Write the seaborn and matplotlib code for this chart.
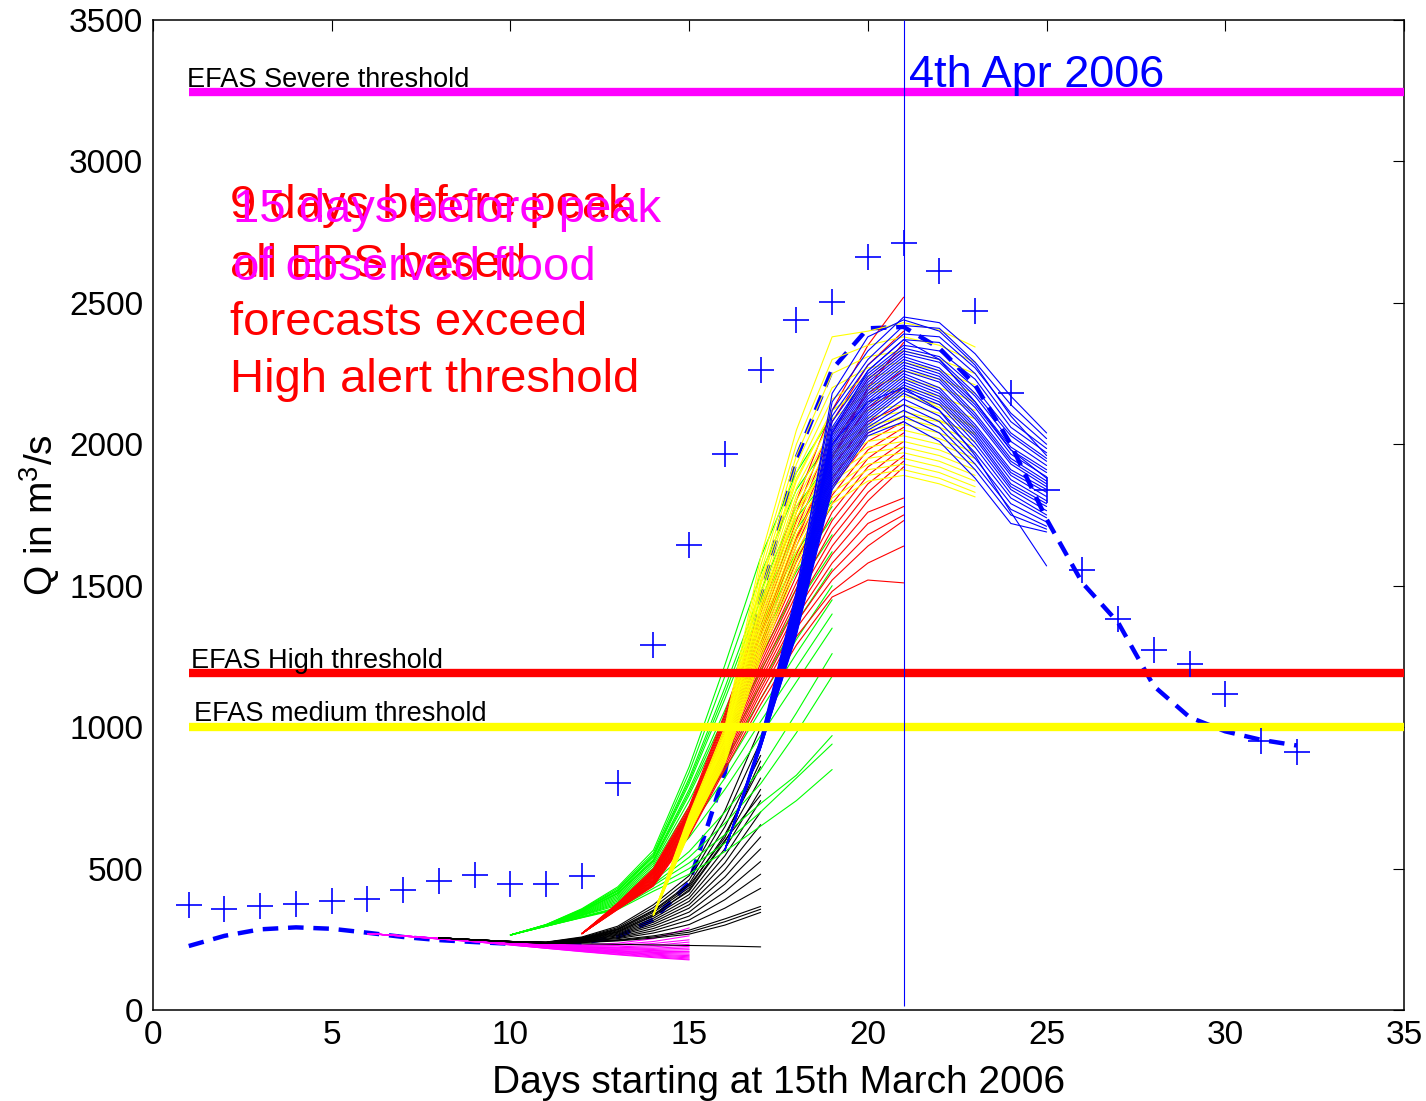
import matplotlib
matplotlib.use("Agg")
import matplotlib.pyplot as plt
import numpy as np
import pandas as pd
import seaborn as sns

# ---------------------------------------------------------------------------
# Observed discharge (crosses) and simulated discharge (dashed), days 1..32
# ---------------------------------------------------------------------------
obs_days = list(range(1, 33))
obs_q = [370, 357, 367, 374, 385, 392, 425, 455, 477, 445, 445, 474, 802, 1292,
         1643, 1965, 2262, 2440, 2503, 2662, 2711, 2612, 2471, 2181, 1838, 1555,
         1384, 1272, 1224, 1116, 950, 912]

sim_days = list(range(1, 33))
sim_q = [226, 262, 285, 292, 287, 273, 258, 247, 240, 234, 232, 238, 258, 320,
         450, 840, 1450, 1950, 2265, 2410, 2415, 2340, 2210, 2000, 1735, 1510,
         1370, 1145, 1035, 985, 955, 935]

# EFAS alert thresholds (m3/s)
thr_severe = 3245
thr_high = 1190
thr_medium = 1000

peak_day = 21

# ---------------------------------------------------------------------------
# EPS forecast runs: first forecast day and daily member values
# ---------------------------------------------------------------------------
magenta_start = 6
magenta_members = [
    [270, 262, 253, 245, 238, 232, 230, 236, 252, 290],
    [270, 262, 253, 245, 238, 232, 228, 231, 242, 262],
    [270, 262, 253, 245, 237, 230, 226, 228, 235, 248],
    [270, 262, 253, 244, 236, 229, 224, 223, 228, 240],
    [270, 262, 253, 244, 236, 228, 222, 220, 223, 232],
    [270, 262, 253, 244, 235, 227, 221, 218, 218, 225],
    [270, 262, 252, 244, 235, 226, 220, 215, 214, 219],
    [270, 262, 252, 243, 234, 225, 218, 213, 210, 213],
    [270, 262, 252, 243, 234, 224, 216, 210, 206, 207],
    [270, 262, 252, 243, 233, 223, 215, 208, 203, 202],
    [270, 262, 252, 242, 233, 222, 213, 206, 200, 197],
    [270, 261, 252, 242, 232, 221, 212, 204, 197, 192],
    [270, 261, 251, 242, 231, 220, 210, 202, 194, 188],
    [270, 261, 251, 241, 231, 219, 209, 200, 191, 184],
    [270, 261, 251, 241, 230, 218, 207, 197, 188, 180],
    [270, 261, 251, 241, 230, 218, 206, 195, 185, 177],
]

black_start = 8
black_members = [
    [255, 248, 241, 236, 234, 232, 230, 228, 226, 223],
    [255, 248, 241, 236, 238, 244, 254, 268, 300, 345],
    [255, 248, 241, 236, 239, 246, 258, 275, 312, 356],
    [255, 248, 241, 236, 240, 248, 262, 282, 322, 366],
    [255, 248, 241, 237, 242, 252, 272, 302, 360, 430],
    [255, 248, 241, 237, 243, 255, 280, 318, 390, 480],
    [255, 248, 241, 237, 244, 258, 288, 332, 418, 525],
    [255, 248, 241, 237, 245, 262, 296, 346, 445, 570],
    [255, 248, 242, 238, 246, 265, 303, 360, 470, 612],
    [255, 248, 242, 238, 247, 268, 310, 372, 495, 655],
    [255, 248, 242, 238, 248, 271, 317, 384, 520, 700],
    [255, 248, 242, 238, 249, 274, 324, 396, 545, 740],
    [255, 248, 242, 238, 250, 277, 331, 408, 570, 780],
    [255, 248, 242, 239, 251, 280, 338, 420, 595, 820],
    [255, 248, 242, 239, 252, 283, 345, 432, 620, 860],
    [255, 248, 242, 239, 254, 287, 353, 446, 648, 900],
    [255, 248, 242, 239, 256, 291, 362, 460, 676, 950],
    [255, 248, 242, 240, 258, 296, 372, 475, 705, 1000],
    [255, 248, 242, 238, 249, 276, 334, 425, 600, 760],
    [255, 248, 242, 239, 253, 285, 350, 440, 610, 880],
]

green_start = 10
green_members = [
    [265, 302, 358, 435, 565, 860, 1220, 1600, 1900, 2100],
    [265, 302, 356, 430, 555, 840, 1180, 1540, 1840, 2020],
    [265, 301, 354, 425, 548, 820, 1140, 1480, 1780, 1950],
    [265, 301, 352, 420, 540, 800, 1100, 1420, 1700, 1870],
    [265, 300, 350, 415, 532, 780, 1060, 1360, 1620, 1800],
    [265, 300, 348, 410, 525, 760, 1020, 1300, 1550, 1740],
    [265, 300, 346, 405, 518, 740, 985, 1250, 1490, 1680],
    [265, 299, 344, 400, 510, 720, 950, 1200, 1430, 1620],
    [265, 299, 342, 395, 502, 700, 915, 1150, 1370, 1560],
    [265, 299, 340, 390, 495, 680, 880, 1100, 1310, 1500],
    [265, 298, 338, 385, 488, 660, 850, 1060, 1260, 1450],
    [265, 298, 336, 380, 480, 640, 820, 1020, 1210, 1400],
    [265, 298, 335, 375, 470, 610, 780, 970, 1160, 1350],
    [265, 297, 333, 370, 455, 560, 700, 850, 1050, 1260],
    [265, 297, 330, 362, 440, 520, 620, 730, 830, 970],
    [265, 296, 328, 358, 430, 500, 590, 700, 820, 940],
    [265, 296, 326, 355, 420, 480, 560, 650, 740, 850],
    [265, 296, 327, 360, 445, 540, 660, 800, 980, 1180],
    [265, 300, 349, 412, 528, 770, 1040, 1330, 1600, 1780],
    [265, 301, 353, 422, 544, 810, 1120, 1450, 1740, 1900],
]

red_start = 12
red_members = [
    [270, 378, 500, 720, 1050, 1420, 1800, 2120, 2350, 2520],
    [270, 376, 496, 712, 1040, 1400, 1760, 2080, 2280, 2400],
    [270, 374, 492, 706, 1030, 1380, 1730, 2040, 2230, 2330],
    [270, 373, 489, 700, 1020, 1360, 1700, 2000, 2180, 2260],
    [270, 372, 486, 695, 1010, 1340, 1670, 1960, 2130, 2200],
    [270, 370, 483, 690, 1000, 1320, 1640, 1920, 2080, 2140],
    [270, 369, 480, 685, 990, 1300, 1610, 1880, 2040, 2100],
    [270, 368, 477, 680, 980, 1285, 1585, 1850, 2010, 2080],
    [270, 367, 474, 675, 970, 1270, 1560, 1820, 1980, 2060],
    [270, 366, 471, 670, 960, 1255, 1535, 1790, 1950, 2040],
    [270, 365, 468, 665, 950, 1240, 1510, 1760, 1920, 2010],
    [270, 364, 465, 660, 940, 1225, 1490, 1730, 1890, 1990],
    [270, 363, 462, 655, 930, 1210, 1470, 1700, 1860, 1960],
    [270, 362, 459, 650, 920, 1195, 1450, 1670, 1830, 1940],
    [270, 361, 456, 645, 910, 1180, 1430, 1640, 1800, 1920],
    [270, 360, 453, 640, 900, 1165, 1410, 1610, 1760, 1810],
    [270, 359, 450, 635, 890, 1150, 1390, 1580, 1720, 1780],
    [270, 358, 447, 630, 880, 1135, 1370, 1550, 1680, 1750],
    [270, 357, 444, 625, 870, 1120, 1350, 1520, 1640, 1730],
    [270, 356, 441, 620, 860, 1100, 1320, 1480, 1580, 1640],
    [270, 355, 438, 615, 850, 1080, 1290, 1460, 1520, 1510],
    [270, 371, 485, 693, 1005, 1330, 1660, 1950, 2200, 2360],
]

yellow_start = 14
yellow_members = [
    [336, 690, 1000, 1600, 2050, 2380, 2400, 2430, 2404, 2344],
    [336, 684, 990, 1570, 2000, 2300, 2350, 2380, 2350, 2290],
    [336, 680, 982, 1545, 1960, 2250, 2310, 2330, 2300, 2250],
    [336, 676, 975, 1520, 1930, 2200, 2270, 2290, 2260, 2210],
    [336, 672, 968, 1500, 1900, 2160, 2240, 2260, 2230, 2180],
    [336, 669, 962, 1480, 1870, 2120, 2210, 2230, 2200, 2150],
    [336, 666, 956, 1460, 1845, 2090, 2180, 2200, 2170, 2120],
    [336, 663, 950, 1440, 1820, 2060, 2150, 2170, 2140, 2090],
    [336, 660, 944, 1425, 1800, 2035, 2120, 2140, 2110, 2060],
    [336, 657, 938, 1410, 1780, 2010, 2095, 2115, 2085, 2035],
    [336, 654, 932, 1395, 1760, 1990, 2070, 2090, 2060, 2010],
    [336, 651, 926, 1380, 1740, 1970, 2050, 2070, 2040, 1990],
    [336, 648, 920, 1365, 1720, 1950, 2030, 2050, 2020, 1970],
    [336, 645, 914, 1350, 1700, 1930, 2010, 2030, 2000, 1950],
    [336, 642, 908, 1335, 1680, 1910, 1990, 2010, 1980, 1930],
    [336, 639, 902, 1320, 1660, 1890, 1970, 1990, 1960, 1910],
    [336, 636, 896, 1305, 1640, 1870, 1950, 1970, 1940, 1890],
    [336, 633, 890, 1290, 1620, 1850, 1930, 1950, 1920, 1870],
    [336, 630, 884, 1275, 1600, 1830, 1910, 1930, 1900, 1850],
    [336, 627, 878, 1260, 1580, 1810, 1890, 1910, 1880, 1830],
    [336, 624, 872, 1245, 1560, 1790, 1870, 1890, 1860, 1814],
    [336, 661, 946, 1430, 1760, 1960, 2060, 2100, 2080, 2040],
    [336, 674, 970, 1510, 1880, 2120, 2200, 2180, 2130, 2060],
]

blue_start = 16
blue_members = [
    [566, 960, 1480, 2150, 2330, 2450, 2430, 2320, 2170, 2040],
    [566, 955, 1460, 2120, 2300, 2420, 2410, 2290, 2140, 2020],
    [566, 952, 1450, 2100, 2280, 2390, 2380, 2270, 2110, 2000],
    [566, 950, 1445, 2080, 2260, 2370, 2360, 2250, 2080, 1985],
    [566, 948, 1440, 2060, 2250, 2350, 2330, 2230, 2060, 1970],
    [566, 947, 1430, 2050, 2240, 2340, 2310, 2200, 2040, 1950],
    [566, 945, 1425, 2040, 2230, 2330, 2300, 2180, 2030, 1940],
    [566, 944, 1420, 2030, 2220, 2320, 2290, 2170, 2010, 1925],
    [566, 943, 1415, 2020, 2210, 2310, 2270, 2150, 1990, 1910],
    [566, 942, 1410, 2010, 2200, 2300, 2260, 2140, 1980, 1900],
    [566, 941, 1405, 2000, 2190, 2290, 2250, 2130, 1965, 1885],
    [566, 940, 1400, 1990, 2180, 2280, 2240, 2110, 1950, 1870],
    [566, 939, 1395, 1980, 2170, 2270, 2230, 2100, 1940, 1860],
    [566, 938, 1390, 1970, 2160, 2260, 2220, 2090, 1930, 1850],
    [566, 937, 1385, 1960, 2150, 2250, 2200, 2070, 1910, 1840],
    [566, 936, 1380, 1950, 2140, 2240, 2190, 2060, 1900, 1830],
    [566, 935, 1375, 1940, 2130, 2230, 2180, 2050, 1890, 1815],
    [566, 934, 1370, 1930, 2120, 2220, 2170, 2040, 1875, 1800],
    [566, 933, 1365, 1920, 2110, 2210, 2160, 2030, 1860, 1790],
    [566, 932, 1360, 1910, 2100, 2200, 2150, 2020, 1850, 1780],
    [566, 931, 1355, 1900, 2090, 2190, 2140, 2005, 1840, 1765],
    [566, 930, 1350, 1890, 2080, 2180, 2120, 1990, 1825, 1750],
    [566, 929, 1345, 1880, 2070, 2160, 2100, 1970, 1810, 1740],
    [566, 928, 1340, 1870, 2060, 2140, 2080, 1950, 1790, 1725],
    [566, 927, 1335, 1860, 2050, 2120, 2060, 1930, 1770, 1710],
    [566, 926, 1330, 1850, 2040, 2100, 2040, 1910, 1750, 1700],
    [566, 925, 1325, 1840, 2030, 2080, 2010, 1880, 1720, 1690],
    [566, 945, 1440, 2000, 2150, 2200, 2120, 1960, 1760, 1570],
    [566, 950, 1470, 2180, 2380, 2440, 2400, 2280, 2100, 1960],
    [566, 940, 1410, 2040, 2260, 2370, 2300, 2150, 1980, 1880],
]

run_colors = {
    "magenta": "#FF00FF",
    "black": "#000000",
    "green": "#00FF00",
    "red": "#FF0000",
    "yellow": "#FFFF00",
    "blue": "#0000FF",
}
runs = [
    ("magenta", magenta_start, magenta_members),
    ("black", black_start, black_members),
    ("green", green_start, green_members),
    ("red", red_start, red_members),
    ("yellow", yellow_start, yellow_members),
    ("blue", blue_start, blue_members),
]

rows = []
for name, start, members in runs:
    for m, values in enumerate(members):
        for i, q in enumerate(values):
            rows.append({"run": name, "member": f"{name}_{m}", "day": start + i, "q": q})
eps = pd.DataFrame(rows)

# ---------------------------------------------------------------------------
# Figure
# ---------------------------------------------------------------------------
sns.set_style("white")
plt.rcParams["font.family"] = ["Liberation Sans", "DejaVu Sans"]
plt.rcParams["mathtext.fontset"] = "custom"
plt.rcParams["mathtext.rm"] = "Liberation Sans"
plt.rcParams["mathtext.it"] = "Liberation Sans:italic"
plt.rcParams["text.color"] = "black"
plt.rcParams["axes.labelcolor"] = "black"
plt.rcParams["xtick.color"] = "black"
plt.rcParams["ytick.color"] = "black"

fig = plt.figure(figsize=(14.26, 11.01), dpi=100)
ax = fig.add_axes([0.1073, 0.0827, 0.8773, 0.8991])

# simulated discharge sits underneath the forecast runs
sns.lineplot(x=sim_days, y=sim_q, color="#0000FF", linewidth=3.2,
             linestyle=(0, (3.5, 2.2)), ax=ax, zorder=1.5)

sns.lineplot(data=eps, x="day", y="q", hue="run", units="member",
             estimator=None, palette=run_colors, hue_order=list(run_colors),
             linewidth=0.8, legend=False, sort=False, ax=ax, zorder=2)

# alert thresholds
ax.hlines(thr_severe, 1, 35, color="#FF00FF", linewidth=6, zorder=4)
ax.hlines(thr_high, 1, 35, color="#FF0000", linewidth=6, zorder=4)
ax.hlines(thr_medium, 1, 35, color="#FFFF00", linewidth=6, zorder=4)
ax.vlines(peak_day, 15, 3500, color="#0000FF", linewidth=0.8, zorder=4)

sns.scatterplot(x=obs_days, y=obs_q, marker="+", s=330, color="#0000FF",
                linewidth=1.2, ax=ax, zorder=5)

label_kw = dict(fontsize=19.5, color="black", va="baseline", ha="left", zorder=6)
ax.text(0.95, thr_severe + 20, "EFAS Severe threshold", **label_kw)
ax.text(1.06, thr_high + 20, "EFAS High threshold", **label_kw)
ax.text(1.15, thr_medium + 20, "EFAS medium threshold", **label_kw)
ax.text(21.15, 3262, "4th Apr 2006", fontsize=32.5, color="#0000FF",
        va="baseline", ha="left", zorder=6)

red_lines = ["9 days before peak", "all EPS based", "forecasts exceed",
             "High alert threshold"]
red_base = [2800, 2591, 2386, 2185]
for txt, yb in zip(red_lines, red_base):
    ax.text(2.15, yb, txt, fontsize=34, color="#FF0000", va="baseline",
            ha="left", zorder=6)
mag_lines = ["15 days before peak", "of observed flood"]
mag_base = [2786, 2581]
for txt, yb in zip(mag_lines, mag_base):
    ax.text(2.24, yb, txt, fontsize=34, color="#FF00FF", va="baseline",
            ha="left", zorder=6)

ax.set_xlim(0, 35)
ax.set_ylim(0, 3500)
ax.set_xticks(np.arange(0, 36, 5))
ax.set_yticks(np.arange(0, 3501, 500))
ax.tick_params(direction="in", length=8, width=0.8, top=True, right=True,
               labelsize=24, pad=7, colors="black")
for sp in ax.spines.values():
    sp.set_visible(True)
    sp.set_color("black")
    sp.set_linewidth(1.1)

ax.set_xlabel("Days starting at 15th March 2006", fontsize=28, labelpad=10,
              color="black")
ax.set_ylabel("Q in m$^3$/s", fontsize=28, labelpad=5, color="black")

fig.savefig("out.png", dpi=100, facecolor="white")
